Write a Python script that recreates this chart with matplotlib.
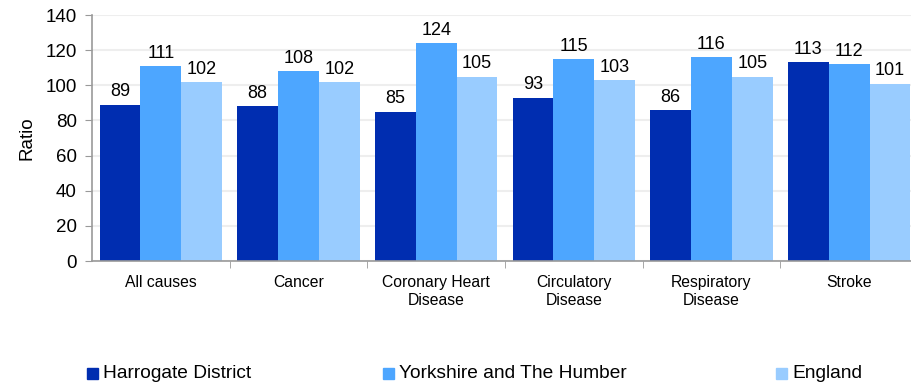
import numpy as np
import matplotlib.pyplot as plt

plt.rcParams['font.family'] = ['Liberation Sans', 'DejaVu Sans']

categories = ['All causes', 'Cancer', 'Coronary Heart\nDisease', 'Circulatory\nDisease',
              'Respiratory\nDisease', 'Stroke']
harrogate = [89, 88, 85, 93, 86, 113]
yorkshire = [111, 108, 124, 115, 116, 112]
england = [102, 102, 105, 103, 105, 101]
series_names = ['Harrogate District', 'Yorkshire and The Humber', 'England']
colors = ['#002DB0', '#4DA6FF', '#99CCFF']

W, H = 912, 387
fig = plt.figure(figsize=(W / 100, H / 100), dpi=100)
# axis runs slightly past the right edge, as in the original
ax = fig.add_axes([92 / W, 1 - 261 / H, (918 - 92) / W, (261 - 15) / H])

x = np.arange(len(categories))
bw = 0.297
for k, (vals, col) in enumerate(zip([harrogate, yorkshire, england], colors)):
    bars = ax.bar(x + (k - 1) * bw, vals, bw, color=col, zorder=2)
    ax.bar_label(bars, labels=[str(v) for v in vals], padding=3, fontsize=13)

ax.set_xlim(-0.5, len(categories) - 0.5)
ax.set_ylim(0, 140)
ax.set_yticks(range(0, 141, 20))
ax.tick_params(axis='y', labelsize=13.5, length=5, color='#999999', pad=6)
ax.yaxis.grid(True, color='#EEEEEE', lw=1.5, zorder=0)
ax.set_ylabel('Ratio', fontsize=13.5, labelpad=7)

ax.set_xticks(x)
ax.set_xticklabels(categories, fontsize=11.3, linespacing=1.25)
ax.tick_params(axis='x', length=0, pad=10)
ax.set_xticks(np.arange(0.5, len(categories) - 0.5), minor=True)
ax.tick_params(axis='x', which='minor', length=5, color='#999999')

for s in ['top', 'right']:
    ax.spines[s].set_visible(False)
for s in ['left', 'bottom']:
    ax.spines[s].set_color('#999999')
    ax.spines[s].set_linewidth(1.2)

# legend entries placed individually, spread across the bottom
leg_x = [87, 383, 776]
for name, col, lx in zip(series_names, colors, leg_x):
    fig.patches.append(plt.Rectangle((lx / W, 1 - 379 / H), 11 / W, 11 / H,
                                     color=col, transform=fig.transFigure))
    fig.text((lx + 16) / W, 1 - 378 / H, name, fontsize=13.8, va='baseline')

fig.savefig('out.png', dpi=100)
